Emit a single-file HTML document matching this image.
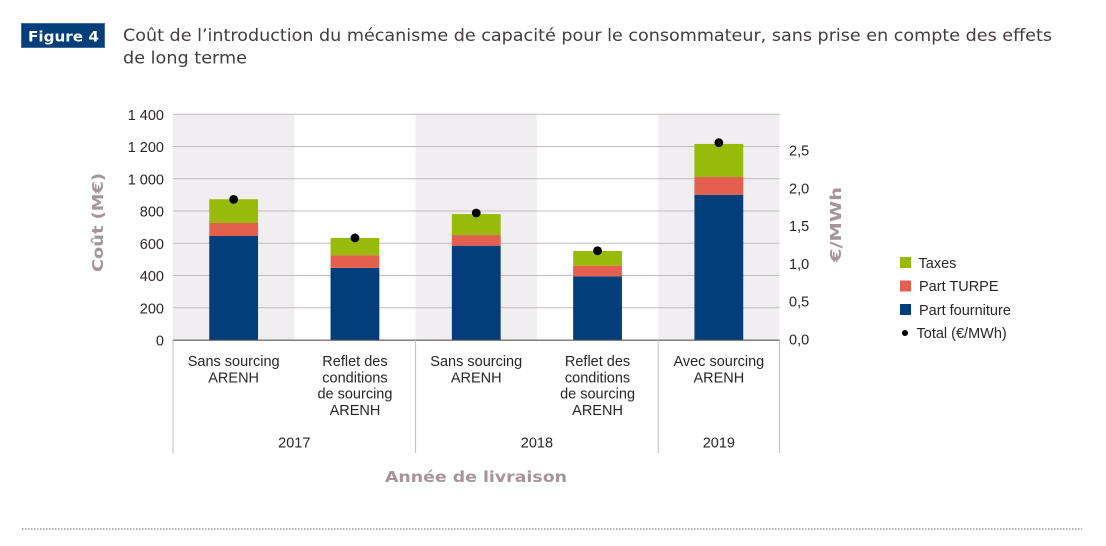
<!DOCTYPE html>
<html lang="fr">
<head>
<meta charset="utf-8">
<title>Figure 4</title>
<style>
html,body{margin:0;padding:0;background:#fff;width:1106px;height:546px;overflow:hidden}
svg{display:block}
text{font-family:"Liberation Sans",sans-serif;fill:#2b2527}
.tick{font-size:14.5px}
.cat{font-size:14.5px;text-anchor:middle}
.hd{font-family:"DejaVu Sans",sans-serif;font-size:17px;fill:#453c3f}
.axt{font-family:"DejaVu Sans",sans-serif;font-weight:bold;font-size:15px;fill:#a39598}
.leg{font-size:14.5px}
</style>
</head>
<body>
<svg id="chart" width="1106" height="546" viewBox="0 0 1106 546" xmlns="http://www.w3.org/2000/svg">
  <rect x="21.5" y="23.5" width="83" height="24" fill="#023e7a" stroke="#3f6da0" stroke-width="1"/>
  <text x="28" y="41.5" textLength="71" lengthAdjust="spacingAndGlyphs" style="font-family:'DejaVu Sans',sans-serif;font-weight:bold;font-size:14px;fill:#fff">Figure 4</text>
  <text class="hd" x="123" y="41" textLength="929" lengthAdjust="spacingAndGlyphs">Coût de l’introduction du mécanisme de capacité pour le consommateur, sans prise en compte des effets</text>
  <text class="hd" x="123" y="63.5" textLength="124" lengthAdjust="spacingAndGlyphs">de long terme</text>

  <g id="bands"></g>
  <g id="grid"></g>
  <g id="leftTicks"></g>
  <g id="rightTicks"></g>
  <g id="bars"></g>
  <g id="dots"></g>
  <line x1="173" x2="780" y1="340.2" y2="340.2" stroke="#5d5457" stroke-width="1.2"/>
  <g id="xlabels"></g>

  <text class="axt" transform="translate(103,272) rotate(-90)" x="0" y="0" textLength="99" lengthAdjust="spacingAndGlyphs">Coût (M€)</text>
  <text class="axt" transform="translate(841,262) rotate(-90)" x="0" y="0" textLength="75" lengthAdjust="spacingAndGlyphs">€/MWh</text>
  <text class="axt" x="385" y="482" textLength="182" lengthAdjust="spacingAndGlyphs">Année de livraison</text>

  <g>
    <rect x="900" y="257" width="11" height="11" fill="#98bb09"/>
    <text class="leg" x="918.5" y="268">Taxes</text>
    <rect x="900" y="280.5" width="11" height="11" fill="#e35f4e"/>
    <text class="leg" x="919" y="291">Part TURPE</text>
    <rect x="900" y="304" width="11" height="11" fill="#023e7a"/>
    <text class="leg" x="919" y="315">Part fourniture</text>
    <circle cx="905" cy="333" r="3" fill="#000"/>
    <text class="leg" x="916.5" y="338">Total (€/MWh)</text>
  </g>

  <line x1="22" x2="1082" y1="529" y2="529" stroke="#a39598" stroke-width="1.5" stroke-dasharray="1.5 1.5"/>
</svg>
<script>
const categories = [
  ["Sans sourcing", "ARENH"],
  ["Reflet des", "conditions", "de sourcing", "ARENH"],
  ["Sans sourcing", "ARENH"],
  ["Reflet des", "conditions", "de sourcing", "ARENH"],
  ["Avec sourcing", "ARENH"]
];
const years = ["2017", "2018", "2019"];
const yearSpans = [2, 2, 1];
const fourniture = [645, 447, 585, 395, 901];
const turpe = [81, 79, 66, 66, 110];
const taxes = [147, 107, 130, 91, 205];
const totalPerMWh = [1.86, 1.35, 1.68, 1.18, 2.61];
const leftTickValues = [0, 200, 400, 600, 800, 1000, 1200, 1400];
const leftTickLabels = ["0", "200", "400", "600", "800", "1 000", "1 200", "1 400"];
const rightTickValues = [0, 0.5, 1, 1.5, 2, 2.5];
const rightTickLabels = ["0,0", "0,5", "1,0", "1,5", "2,0", "2,5"];

const NS = "http://www.w3.org/2000/svg";
const plotLeft = 173, plotRight = 779.5, plotBottom = 340, plotTop = 114.3;
const leftMax = 1400, rightUnitPx = 75.6, barWidth = 48.8;
const bandW = (plotRight - plotLeft) / categories.length;
function yLeft(v) { return plotBottom - v / leftMax * (plotBottom - plotTop); }
function yRight(v) { return plotBottom - v * rightUnitPx; }
function xCenter(i) { return plotLeft + bandW * (i + 0.5); }
function make(tag, attrs, parent, txt) {
  const el = document.createElementNS(NS, tag);
  for (const k in attrs) el.setAttribute(k, attrs[k]);
  if (txt !== undefined) el.textContent = txt;
  parent.appendChild(el);
  return el;
}
const gBands = document.getElementById("bands");
const gGrid = document.getElementById("grid");
const gLeft = document.getElementById("leftTicks");
const gRight = document.getElementById("rightTicks");
const gBars = document.getElementById("bars");
const gDots = document.getElementById("dots");
const gX = document.getElementById("xlabels");

categories.forEach(function (c, i) {
  if (i % 2 === 0) {
    const b = make("rect", { x: plotLeft + bandW * i, y: plotTop, width: bandW, height: plotBottom - plotTop, fill: "#f0eef0" }, gBands);
    
    
  }
});
leftTickValues.forEach(function (v, i) {
  if (v > 0) {
    const l = make("line", { x1: plotLeft, x2: plotRight, y1: yLeft(v), y2: yLeft(v), stroke: "#c6babe", "stroke-width": 1 }, gGrid);
    
    
  }
  const t = make("text", { x: 164, y: yLeft(v) + 5.5, "text-anchor": "end", class: "tick" }, gLeft, leftTickLabels[i]);
  
  
});
rightTickValues.forEach(function (v, i) {
  const t = make("text", { x: 789, y: yRight(v) + 4.5, class: "tick" }, gRight, rightTickLabels[i]);
  
  
});
categories.forEach(function (c, i) {
  const cx = xCenter(i), x = cx - barWidth / 2;
  const top1 = fourniture[i], top2 = top1 + turpe[i], top3 = top2 + taxes[i];
  const r1 = make("rect", { x: x, y: yLeft(top1), width: barWidth, height: plotBottom - yLeft(top1), fill: "#023e7a" }, gBars);
  
  
  const r2 = make("rect", { x: x, y: yLeft(top2), width: barWidth, height: yLeft(top1) - yLeft(top2), fill: "#e35f4e" }, gBars);
  
  
  const r3 = make("rect", { x: x, y: yLeft(top3), width: barWidth, height: yLeft(top2) - yLeft(top3), fill: "#98bb09" }, gBars);
  
  
  const d = make("circle", { cx: cx, cy: yRight(totalPerMWh[i]), r: 4.4, fill: "#000" }, gDots);
  
  
  c.forEach(function (line, j) {
    const t = make("text", { x: cx, y: 366 + j * 16.3, class: "cat" }, gX, line);
    
    
  });
});
let start = 0;
function divider(i) {
  const sep = make("line", { x1: plotLeft + bandW * i, x2: plotLeft + bandW * i, y1: 340, y2: 453, stroke: "#c6babe", "stroke-width": 1 }, gX);
  
  
}
divider(0);
years.forEach(function (y, i) {
  const mid = plotLeft + bandW * (start + yearSpans[i] / 2);
  const t = make("text", { x: mid, y: 447.5, class: "cat" }, gX, y);
  
  
  start += yearSpans[i];
  divider(start);
});
</script>
</body>
</html>
